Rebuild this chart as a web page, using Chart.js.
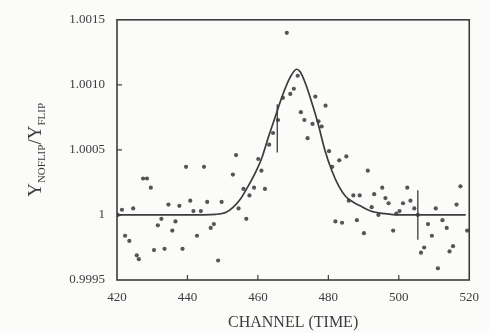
<!DOCTYPE html>
<html>
<head>
<meta charset="utf-8">
<script src="https://cdn.jsdelivr.net/npm/chart.js@4/dist/chart.umd.min.js"></script>
<style>
  html, body { margin: 0; padding: 0; background: #fbfbfa; }
  #wrap { width: 489px; height: 333px; }
</style>
</head>
<body>
<div id="wrap"><canvas id="chart" width="489" height="333"></canvas></div>
<script>
// measured ratio points (channel, Y_noflip / Y_flip)
const pointChannels = [
  421.4, 424.6, 427.4, 428.5, 429.6, 422.3, 423.5, 425.6, 426.2, 430.5,
  431.6, 432.6, 433.5, 434.6, 435.7, 436.6, 437.7, 438.6, 439.6, 440.8,
  441.7, 442.7, 443.8, 444.7, 445.6, 446.6, 447.5, 448.7, 449.7, 452.9,
  453.8, 455.9, 456.7, 454.5, 457.6, 458.9, 460.1, 461.0, 462.0, 463.2,
  464.3, 465.7, 467.1, 468.2, 469.2, 470.2, 471.3, 472.2, 473.2, 474.1,
  475.5, 476.3, 477.2, 478.1, 479.2, 480.2, 481.1, 483.1, 485.1, 485.8,
  482.0, 483.9, 487.1, 488.1, 488.9, 490.1, 491.2, 492.3, 493.0, 494.2,
  495.3, 496.2, 497.1, 498.4, 499.3, 500.2, 501.2, 502.4, 503.3, 504.4,
  505.4, 506.3, 507.2, 508.3, 509.4, 510.5, 511.1, 512.4, 513.6, 514.4,
  515.4, 516.4, 517.5, 519.4, 420.2
];
const pointRatios = [
  1.00004, 1.00005, 1.00028, 1.00028, 1.00021, 0.99984, 0.99980, 0.99969, 0.99966, 0.99973,
  0.99992, 0.99997, 0.99974, 1.00008, 0.99988, 0.99995, 1.00007, 0.99974, 1.00037, 1.00011,
  1.00003, 0.99984, 1.00003, 1.00037, 1.00010, 0.99990, 0.99993, 0.99965, 1.00010, 1.00031,
  1.00046, 1.00020, 0.99997, 1.00005, 1.00015, 1.00021, 1.00043, 1.00034, 1.00020, 1.00054,
  1.00063, 1.00073, 1.00090, 1.00140, 1.00093, 1.00097, 1.00107, 1.00079, 1.00073, 1.00059,
  1.00070, 1.00091, 1.00072, 1.00068, 1.00084, 1.00049, 1.00037, 1.00042, 1.00045, 1.00011,
  0.99995, 0.99994, 1.00015, 0.99996, 1.00015, 0.99986, 1.00034, 1.00006, 1.00016, 1.00000,
  1.00021, 1.00013, 1.00009, 0.99988, 1.00001, 1.00003, 1.00009, 1.00021, 1.00011, 1.00005,
  1.00000, 0.99971, 0.99975, 0.99993, 0.99984, 1.00005, 0.99959, 0.99996, 0.99990, 0.99972,
  0.99976, 1.00008, 1.00022, 0.99988, 1.00000
];

// fitted curve
const fitChannels = [420, 430, 440, 448, 451, 453, 455, 457, 459, 461, 463, 465, 467, 469, 471,
  472, 473.5, 475, 477, 479, 481, 483, 485, 487, 489, 492, 496, 500, 510, 519];
const fitRatios = [1.0, 1.0, 1.0, 1.000005, 1.00002, 1.00006, 1.00012, 1.00021, 1.00031, 1.00043,
  1.00060, 1.00076, 1.00092, 1.00105, 1.00112, 1.00110, 1.00101, 1.00089, 1.00071, 1.00050,
  1.00034, 1.00022, 1.00014, 1.00010, 1.00007, 1.00003, 1.00001, 1.0, 1.0, 1.0];

// the two error bars
const errChannels = [465.5, 505.4];
const errLow = [1.00048, 0.99981];
const errHigh = [1.00085, 1.00019];

// axis ticks
const xTicks = [420, 440, 460, 480, 500, 520];
const yTicks = [0.9995, 1.0, 1.0005, 1.0010, 1.0015];
const yTickLabels = ['0.9995', '1', '1.0005', '1.0010', '1.0015'];

const INK = '#3c3c3c';
const SERIF = '"Liberation Serif", "DejaVu Serif", serif';

const scatterData = pointChannels.map((c, i) => ({ x: c, y: pointRatios[i] }));
const fitData = fitChannels.map((c, i) => ({ x: c, y: fitRatios[i] }));

// box, inward ticks, error bars and y title
const decorPlugin = {
  id: 'decor',
  beforeDraw(chart) {
    const ctx = chart.ctx;
    ctx.save();
    ctx.fillStyle = '#fbfbfa';
    ctx.fillRect(0, 0, chart.width, chart.height);
    ctx.restore();
  },
  afterDatasetsDraw(chart) {
    const { ctx, chartArea: a, scales } = chart;
    const xs = scales.x, ys = scales.y;
    ctx.save();
    ctx.strokeStyle = INK;
    ctx.lineWidth = 1.6;
    ctx.strokeRect(a.left, a.top, a.right - a.left, a.bottom - a.top);

    ctx.lineWidth = 1.2;
    xTicks.slice(1, -1).forEach(v => {
      const px = xs.getPixelForValue(v);
      ctx.beginPath();
      ctx.moveTo(px, a.bottom);
      ctx.lineTo(px, a.bottom - 5);
      ctx.stroke();
    });
    yTicks.slice(1, -1).forEach(v => {
      const py = ys.getPixelForValue(v);
      ctx.beginPath();
      ctx.moveTo(a.left, py);
      ctx.lineTo(a.left + 5, py);
      ctx.stroke();
    });

    ctx.lineWidth = 1.3;
    errChannels.forEach((c, i) => {
      const px = xs.getPixelForValue(c);
      ctx.beginPath();
      ctx.moveTo(px, ys.getPixelForValue(errLow[i]));
      ctx.lineTo(px, ys.getPixelForValue(errHigh[i]));
      ctx.stroke();
    });

    // Y_NOFLIP / Y_FLIP
    ctx.translate(35, (a.top + a.bottom) / 2);
    ctx.rotate(-Math.PI / 2);
    ctx.fillStyle = INK;
    ctx.textBaseline = 'alphabetic';
    const parts = [
      ['Y', 19, 0], ['NOFLIP', 11, 4], ['/', 19, 0], ['Y', 19, 0], ['FLIP', 11, 4]
    ];
    let total = 0;
    parts.forEach(p => { ctx.font = p[1] + 'px ' + SERIF; total += ctx.measureText(p[0]).width; });
    let cx = -total / 2;
    parts.forEach(p => {
      ctx.font = p[1] + 'px ' + SERIF;
      ctx.fillText(p[0], cx, 6 + p[2]);
      cx += ctx.measureText(p[0]).width;
    });
    ctx.restore();
  }
};

new Chart(document.getElementById('chart'), {
  type: 'scatter',
  data: {
    datasets: [
      {
        label: 'fit',
        data: fitData,
        showLine: true,
        borderColor: INK,
        borderWidth: 1.7,
        pointRadius: 0,
        cubicInterpolationMode: 'monotone',
        fill: false
      },
      {
        label: 'data',
        data: scatterData,
        pointRadius: 2.1,
        pointBackgroundColor: '#555555',
        pointBorderWidth: 0,
        showLine: false
      }
    ]
  },
  options: {
    responsive: false,
    animation: false,
    layout: { padding: { top: 15, right: 14, left: 0, bottom: 0 } },
    plugins: {
      legend: { display: false },
      tooltip: { enabled: false }
    },
    scales: {
      x: {
        type: 'linear',
        min: 420,
        max: 520,
        afterBuildTicks: s => { s.ticks = xTicks.map(v => ({ value: v })); },
        afterFit: s => { s.height = 53; },
        grid: { display: false, drawTicks: false },
        border: { display: false },
        ticks: {
          padding: 10,
          color: INK,
          font: { family: SERIF, size: 13 },
          callback: v => String(v)
        },
        title: {
          display: true,
          text: 'CHANNEL (TIME)',
          color: INK,
          font: { family: SERIF, size: 16 },
          padding: { top: 0, bottom: 1 }
        }
      },
      y: {
        type: 'linear',
        min: 0.9995,
        max: 1.0015,
        afterBuildTicks: s => { s.ticks = yTicks.map(v => ({ value: v })); },
        afterFit: s => { s.width = 117; },
        grid: { display: false, drawTicks: false },
        border: { display: false },
        ticks: {
          padding: 12,
          color: INK,
          font: { family: SERIF, size: 13 },
          callback: (v, i) => yTickLabels[i]
        }
      }
    }
  },
  plugins: [decorPlugin]
});
</script>
</body>
</html>
